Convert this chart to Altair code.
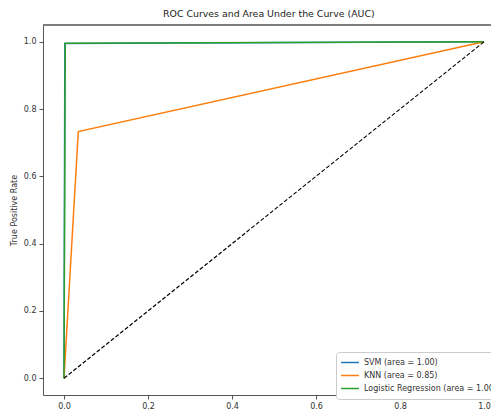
import altair as alt
import pandas as pd

models = ["SVM", "KNN", "Logistic Regression"]
aucs = [1.00, 0.85, 1.00]
svm_fpr = [0.0, 0.002, 1.0]
svm_tpr = [0.0, 0.995, 1.0]
knn_fpr = [0.0, 0.034, 1.0]
knn_tpr = [0.0, 0.733, 1.0]
lr_fpr = [0.0, 0.003, 1.0]
lr_tpr = [0.0, 0.996, 1.0]
diag_x = [0.0, 1.0]
diag_y = [0.0, 1.0]
colors = ["#1f77b4", "#ff7f0e", "#2ca02c"]
ticks = [0.0, 0.2, 0.4, 0.6, 0.8, 1.0]

labels = [f"{m} (area = {a:.2f})" for m, a in zip(models, aucs)]
rows = []
for lab, fx, ty in zip(labels, [svm_fpr, knn_fpr, lr_fpr], [svm_tpr, knn_tpr, lr_tpr]):
    for i, (a, b) in enumerate(zip(fx, ty)):
        rows.append({"label": lab, "fpr": a, "tpr": b, "step": i})
df = pd.DataFrame(rows)
diag = pd.DataFrame({"fpr": diag_x, "tpr": diag_y})

W = 448
H = 370
xs = alt.Scale(domain=[-0.05, -0.05 + W / 420.0], nice=False, zero=False)
ys = alt.Scale(domain=[-0.05, 1.05], nice=False, zero=False)
xax = alt.Axis(values=ticks, format=".1f", title="False Positive Rate", grid=False,
               titleX=232, titleAlign="center")
yax = alt.Axis(values=ticks, format=".1f", title="True Positive Rate", grid=False)

lines = alt.Chart(df).mark_line(strokeWidth=1.5).encode(
    x=alt.X("fpr:Q", scale=xs, axis=xax),
    y=alt.Y("tpr:Q", scale=ys, axis=yax),
    color=alt.Color(
        "label:N",
        scale=alt.Scale(domain=labels, range=colors),
        sort=labels,
        legend=alt.Legend(
            title=None,
            orient="none",
            legendX=293,
            legendY=327,
            symbolType="stroke",
            symbolStrokeWidth=1.5,
            symbolSize=320,
            clipHeight=13,
            labelFontSize=8,
            labelColor="#333",
            labelOffset=4,
            rowPadding=0,
            padding=4,
            strokeColor="#cccccc",
            fillColor="white",
            cornerRadius=3,
        ),
    ),
    order="step:Q",
)

diagonal = alt.Chart(diag).mark_line(color="black", strokeDash=[4, 2], strokeWidth=1.2).encode(
    x=alt.X("fpr:Q", scale=xs),
    y=alt.Y("tpr:Q", scale=ys),
)

top_frame = alt.Chart(diag).mark_rule(color="#555555", strokeWidth=1).encode(
    x=alt.value(0), x2=alt.value(W), y=alt.value(0)
)

chart = (
    alt.layer(lines, diagonal, top_frame)
    .properties(
        width=W,
        height=H,
        title=alt.TitleParams(
            "ROC Curves and Area Under the Curve (AUC)",
            fontSize=9.4,
            fontWeight="normal",
            color="#222",
            anchor="start",
            frame="group",
            dx=120,
            offset=5,
        ),
        autosize=alt.AutoSizeParams(type="none"),
        padding={"left": 35, "top": 17, "right": 0, "bottom": 16},
    )
    .configure(font="DejaVu Sans")
    .configure_view(stroke=None)
    .configure_axis(
        labelFontSize=8,
        labelColor="#333",
        titleFontSize=8,
        titleFontWeight="normal",
        titleColor="#333",
        tickColor="#555",
        domainColor="#555",
        tickSize=4,
        labelPadding=3,
    )
    .configure_axisY(titlePadding=5)
    .configure_axisX(titlePadding=4)
)

chart.save("out.html", embed_options={"renderer": "svg", "actions": False})
